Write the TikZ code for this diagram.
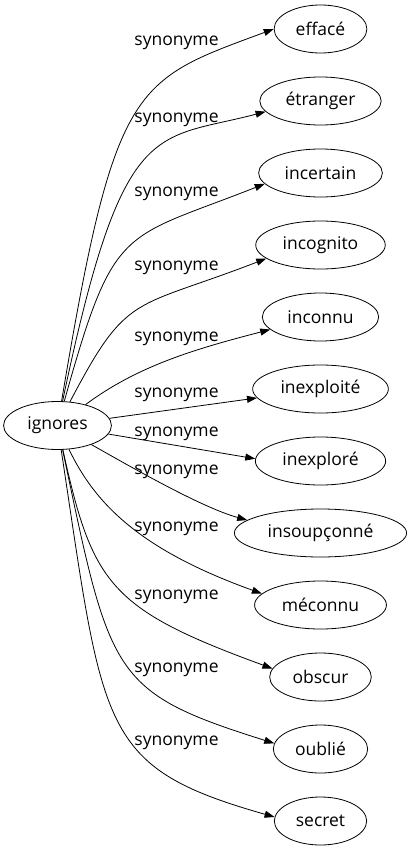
\documentclass[tikz,border=0pt]{standalone}
\usepackage{fontspec}
\setmainfont{Open Sans}
\usepackage{tikz}
\usetikzlibrary{shapes}
\usetikzlibrary{arrows.meta}
\tikzset{
	main node/.style={ellipse,draw,inner xsep=8pt,inner ysep=2pt,minimum height=48pt,font=\fontsize{17.5}{20}\selectfont},
	syn/.style={inner sep=0pt,font=\fontsize{17.5}{20}\selectfont}
}

\begin{document}
\begin{tikzpicture}[x=1pt,y=-1pt,->,>={Triangle[length=10pt,width=7pt]},line width=0.8pt]
	\useasboundingbox (0,0) rectangle (412,851);
	% centre
	\node [main node] (ignores) at (57.5,425.5) {ignores};
	% synonymes
	\node [main node] (efface) at (320.5,29) {effacé};
	\node [main node] (etranger) at (320.5,101) {étranger};
	\node [main node] (incertain) at (320.5,173) {incertain};
	\node [main node] (incognito) at (320.5,245) {incognito};
	\node [main node] (inconnu) at (320.5,317) {inconnu};
	\node [main node] (inexploite) at (320.5,389) {inexploité};
	\node [main node] (inexplore) at (320.5,461) {inexploré};
	\node [main node] (insoupconne) at (320.5,533) {insoupçonné};
	\node [main node] (meconnu) at (320.5,605) {méconnu};
	\node [main node] (obscur) at (320.5,677) {obscur};
	\node [main node] (oublie) at (320.5,749) {oublié};
	\node [main node] (secret) at (320.5,821) {secret};
	% labels
	\node [syn] (s1) at (176.5,42.5) {synonyme};
	\node [syn] (s2) at (176.5,120) {synonyme};
	\node [syn] (s3) at (176.5,194) {synonyme};
	\node [syn] (s4) at (176.5,267.5) {synonyme};
	\node [syn] (s5) at (176.5,338.5) {synonyme};
	\node [syn] (s6) at (176.5,395) {synonyme};
	\node [syn] (s7) at (176.5,433.5) {synonyme};
	\node [syn] (s8) at (176.5,471.5) {synonyme};
	\node [syn] (s9) at (176.5,528.5) {synonyme};
	\node [syn] (s10) at (176.5,596.5) {synonyme};
	\node [syn] (s11) at (176.5,670) {synonyme};
	\node [syn] (s12) at (176.5,742.5) {synonyme};
	% edges
	\draw (ignores) .. controls (115,82) and (133,81) .. (efface.180);
	\draw (ignores) .. controls (122.7,114.2) and (154,141) .. (etranger.191);
	\draw (ignores) .. controls (114.2,222.7) and (120.8,240.5) .. (incertain.191);
	\draw (ignores) .. controls (128,291.2) and (132.3,310.3) .. (incognito.194);
	\draw (ignores) .. controls (137.4,366) and (194.3,349.2) .. (inconnu.194);
	\draw (ignores) -- (inexploite.188);
	\draw (ignores) -- (inexplore.178);
	\draw (ignores) .. controls (128.5,465.5) and (201.3,507.5) .. (insoupconne.170);
	\draw (ignores) .. controls (95.5,504.5) and (140.5,549.9) .. (meconnu.169);
	\draw (ignores) .. controls (92.5,584) and (109.3,609) .. (obscur.170);
	\draw (ignores) .. controls (110.3,676) and (110.5,691.9) .. (oublie.173);
	\draw (ignores) .. controls (103.7,730.6) and (99,767.2) .. (secret.175);
\end{tikzpicture}
\end{document}
